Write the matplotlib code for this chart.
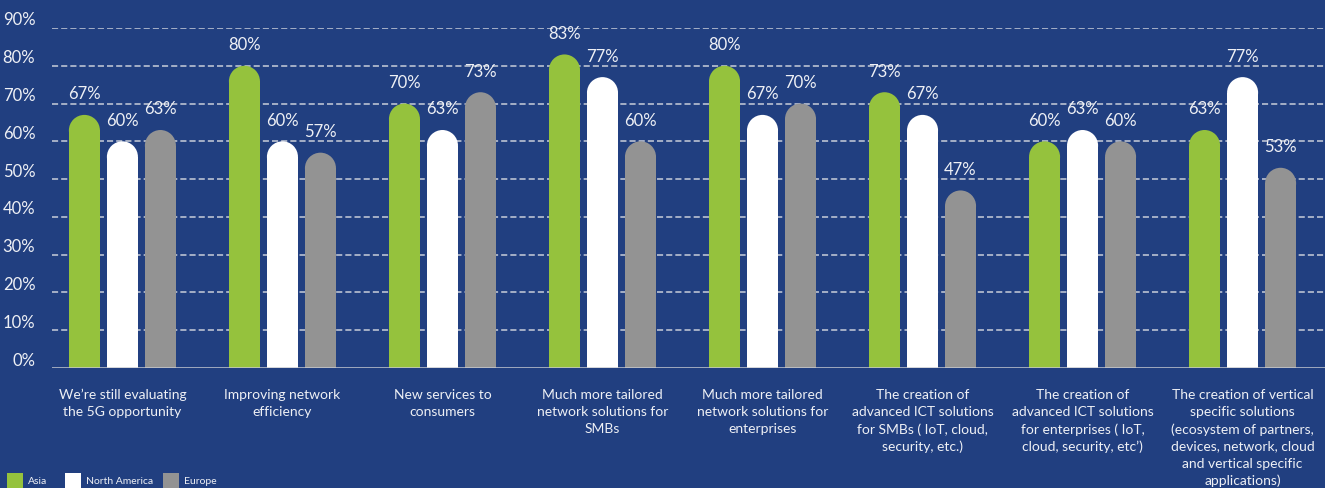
import numpy as np
import matplotlib
matplotlib.use("Agg")
import matplotlib.pyplot as plt
from matplotlib.patches import Ellipse, Rectangle
from matplotlib.transforms import ScaledTranslation

plt.rcParams['font.family'] = ['Lato', 'DejaVu Sans']

categories = [
    "We\u2019re still evaluating\nthe 5G opportunity",
    "Improving network\nefficiency",
    "New services to\nconsumers",
    "Much more tailored\nnetwork solutions for\nSMBs",
    "Much more tailored\nnetwork solutions for\nenterprises",
    "The creation of\nadvanced ICT solutions\nfor SMBs ( IoT, cloud,\nsecurity, etc.)",
    "The creation of\nadvanced ICT solutions\nfor enterprises ( IoT,\ncloud, security, etc\u2019)",
    "The creation of vertical\nspecific solutions\n(ecosystem of partners,\ndevices, network, cloud\nand vertical specific\napplications)",
]
asia = [67, 80, 70, 83, 80, 73, 60, 63]
north_america = [60, 60, 63, 77, 67, 67, 63, 77]
europe = [63, 57, 73, 60, 70, 47, 60, 53]
series_names = ["Asia", "North America", "Europe"]
y_ticks = [0, 10, 20, 30, 40, 50, 60, 70, 80, 90]

BG = "#213F80"
COLORS = ["#95C23D", "#FFFFFF", "#939393"]
TEXT = "#EEF0F5"
W, H = 1325, 488

fig = plt.figure(figsize=(W / 100, H / 100), dpi=100, facecolor=BG)
ax = fig.add_axes([52 / W, 120 / H, 1 - 52 / W, 340 / H])
ax.set_facecolor(BG)
ax.set_xlim(-0.44, 7.515)
ax.set_ylim(0, 90)
for s in ax.spines.values():
    s.set_visible(False)

# dashed gridlines above the baseline, solid baseline at zero
for v in y_ticks[1:]:
    ax.axhline(v, color="#C9CEDA", lw=1.1, ls=(0, (4, 2)), zorder=1)
ax.axhline(0, color="#C6C9D0", lw=1.8, zorder=3)

x = np.arange(len(categories))
width = 0.194
step = 0.2375

# radius of the rounded cap in y data units (cap is a true semicircle on screen)
fig.canvas.draw()
bbox = ax.get_window_extent()
px_per_x = bbox.width / (ax.get_xlim()[1] - ax.get_xlim()[0])
px_per_y = bbox.height / (ax.get_ylim()[1] - ax.get_ylim()[0])
r_y = (width * px_per_x / 2) / px_per_y

for i, (vals, col) in enumerate(zip([asia, north_america, europe], COLORS)):
    vals = np.asarray(vals, dtype=float)
    xs = x + (i - 1) * step
    ax.bar(xs, vals - r_y, width=width, color=col, zorder=2, linewidth=0)
    for xi, v in zip(xs, vals):
        ax.add_patch(Ellipse((xi, v - r_y), width, 2 * r_y, facecolor=col,
                             edgecolor="none", zorder=2))
        ax.annotate(f"{v:.0f}%", (xi, v), xytext=(0, 9), textcoords="offset points",
                    ha="center", va="bottom", fontsize=12, color=TEXT)

ax.set_yticks(y_ticks)
ax.set_yticklabels([f"{v}%" for v in y_ticks], fontsize=12, color=TEXT)
ax.tick_params(axis="y", length=0, pad=12)
offset = ScaledTranslation(0, 0.09, fig.dpi_scale_trans)
for lbl in ax.get_yticklabels():
    lbl.set_transform(lbl.get_transform() + offset)

ax.set_xticks(x)
ax.set_xticklabels(categories, fontsize=10, color=TEXT, linespacing=1.5)
ax.tick_params(axis="x", length=0, pad=15)

# legend: colour squares along the bottom edge
legend_x = [7, 65, 163]
for lx, name, col in zip(legend_x, series_names, COLORS):
    fig.add_artist(Rectangle((lx / W, -1 / H), 16 / W, 16 / H, transform=fig.transFigure,
                             facecolor=col, edgecolor="none"))
    fig.text((lx + 21) / W, 7 / H, name, fontsize=7.5, color=TEXT, ha="left", va="center")

fig.savefig("out.png", dpi=100, facecolor=BG)
